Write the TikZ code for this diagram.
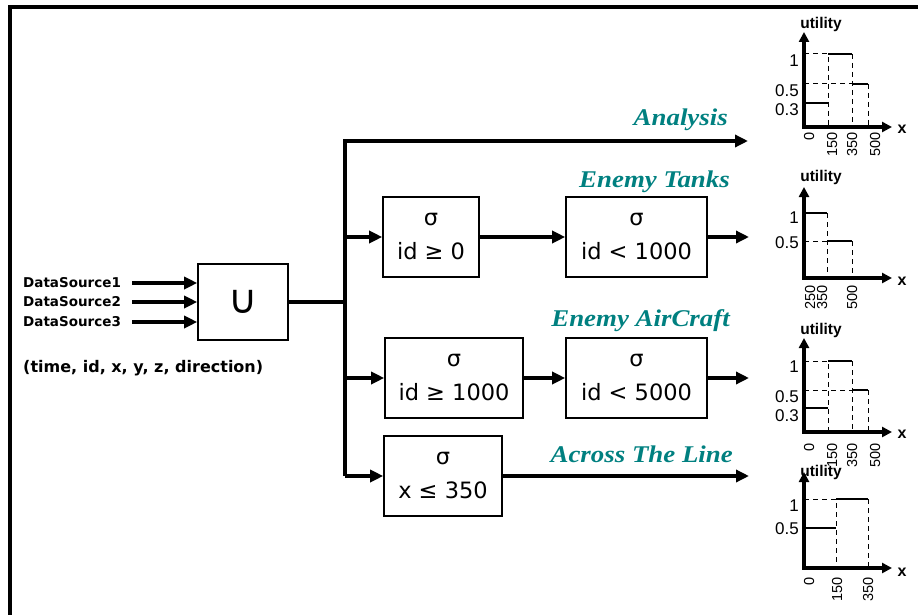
\documentclass[tikz,border=0pt]{standalone}
\usepackage{fontspec}
\setmainfont{DejaVu Sans}
\newfontfamily\labfont{Liberation Serif}
\newfontfamily\arialfont{Liberation Sans}
\usetikzlibrary{arrows.meta}
\definecolor{labteal}{RGB}{0,128,128}
\newcommand{\lbltxt}[1]{\scalebox{1.12}[1]{#1}}
\begin{document}
\begin{tikzpicture}[x=1pt,y=-1pt,
  main/.style={line width=4pt},
  arr/.style={line width=4pt,-{Triangle[length=13pt,width=12pt]}},
  box/.style={draw,line width=1.6pt,minimum height=80pt,inner sep=0pt,align=center,font=\fontsize{22.5}{34}\selectfont},
  lab/.style={text=labteal,font=\labfont\bfseries\itshape\fontsize{24}{24}\selectfont,inner sep=0pt,anchor=base east},
  src/.style={font=\bfseries\fontsize{13.5}{14}\selectfont,anchor=west,inner sep=0pt},
  axis/.style={line width=3.5pt,{Triangle[length=10pt,width=10pt]}-{Triangle[length=10pt,width=10pt]}},
  dsh/.style={dash pattern=on 5pt off 4pt,line width=1pt},
  stp/.style={line width=2pt},
  ylab/.style={font=\arialfont\fontsize{17}{17}\selectfont,anchor=east,inner sep=0pt},
  xlab/.style={font=\arialfont\fontsize{14.5}{14.5}\selectfont,rotate=90,anchor=east,inner sep=0pt},
  ut/.style={font=\arialfont\bfseries\fontsize{15.5}{15.5}\selectfont,anchor=base,inner sep=0pt},
  xb/.style={font=\arialfont\bfseries\fontsize{16}{16}\selectfont,inner sep=0pt}]
\useasboundingbox (0,0) rectangle (918,615);
% frame
\draw[line width=4pt] (10,615) -- (10,7) -- (918,7);

% sources and union
\node[box,minimum width=90pt,minimum height=76pt] (u) at (243,302) {\fontsize{40}{40}\selectfont ∪};
\node[src] (d1) at (23,283) {DataSource1};
\node[src] (d2) at (23,302) {DataSource2};
\node[src] (d3) at (23,322) {DataSource3};
\draw[arr] ([xshift=11pt]d1.east) -- (d1.east -| u.west);
\draw[arr] ([xshift=11pt]d2.east) -- (d2.east -| u.west);
\draw[arr] ([xshift=11pt]d3.east) -- (d3.east -| u.west);
\node[font=\bfseries\fontsize{16}{16}\selectfont,anchor=west,inner sep=0pt] (tp) at (23,368) {(time, id, x, y, z, direction)};

% boxes
\node[box,minimum width=96pt] (b1) at (431,237) {σ\\id ≥ 0};
\node[box,minimum width=141pt] (b2) at (636.5,237) {σ\\id < 1000};
\node[box,minimum width=138pt] (b3) at (454,378) {σ\\id ≥ 1000};
\node[box,minimum width=141pt] (b4) at (636.5,378) {σ\\id < 5000};
\node[box,minimum width=118pt] (b5) at (443,476) {σ\\x ≤ 350};

% trunk
\coordinate (ttop) at (345,141);
\coordinate (tbot) at (345,476);
\coordinate (aend) at (748,141);
\draw[main] (u.east) -- (u.east -| ttop);
\draw[arr] (tbot) -- (ttop) -- (aend);
\draw[arr] (b1.west -| ttop) -- (b1.west);
\draw[arr] (b3.west -| ttop) -- (b3.west);
\draw[arr] (b5.west -| ttop) -- (b5.west);
\draw[arr] (b1) -- (b2);
\draw[arr] (b3) -- (b4);
\coordinate (e2) at (749,237);
\coordinate (e4) at (749,378);
\coordinate (e5) at (749,476);
\draw[arr] (b2.east) -- (e2);
\draw[arr] (b4.east) -- (e4);
\draw[arr] (b5.east) -- (e5);

% labels
\node[lab] (la) at (728,125) {\lbltxt{Analysis}};
\node[lab] (lt) at (730,187) {\lbltxt{Enemy Tanks}};
\node[lab] (lc) at (730,326) {\lbltxt{Enemy AirCraft}};
\node[lab] (ll) at (733,462) {\lbltxt{Across The Line}};

% chart 1
\draw[dsh] (804,54) -- (828,54) -- (828,127);
\draw[dsh] (852,54) -- (852,127);
\draw[dsh] (804,84) -- (852,84);
\draw[dsh] (868,84) -- (868,127);
\draw[stp] (804,103) -- (828,103);
\draw[stp] (828,54) -- (852,54);
\draw[stp] (852,84) -- (868,84);
\draw[axis] (804,32) -- (804,127) -- (892,127);
\node[ut] (u1) at (821,29) {utility};
\node[xb] (x1) at (902,129) {x};
\node[ylab] (y11) at (799,61) {1};
\node[ylab] (y12) at (799,91) {0.5};
\node[ylab] (y13) at (799,110) {0.3};
\node[xlab] (t11) at (809,132) {0};
\node[xlab] (t12) at (832,132) {150};
\node[xlab] (t13) at (852,132) {350};
\node[xlab] (t14) at (875,132) {500};

% chart 2
\draw[dsh] (827,213) -- (827,278);
\draw[dsh] (804,241) -- (827,241);
\draw[dsh] (852,241) -- (852,278);
\draw[stp] (804,213) -- (827,213);
\draw[stp] (827,241) -- (852,241);
\draw[axis] (804,187) -- (804,278) -- (892,278);
\node[ut] (u2) at (821,181) {utility};
\node[xb] (x2) at (902,281) {x};
\node[ylab] (y21) at (799,218) {1};
\node[ylab] (y22) at (799,243) {0.5};
\node[xlab] (t21) at (810,285) {250};
\node[xlab] (t22) at (822,285) {350};
\node[xlab] (t23) at (852,285) {500};

% chart 3
\draw[dsh] (804,361) -- (828,361) -- (828,432);
\draw[dsh] (852,361) -- (852,432);
\draw[dsh] (804,390) -- (852,390);
\draw[dsh] (868,390) -- (868,432);
\draw[stp] (804,408) -- (828,408);
\draw[stp] (828,361) -- (852,361);
\draw[stp] (852,390) -- (868,390);
\draw[axis] (804,338) -- (804,432) -- (892,432);
\node[ut] (u3) at (821,334) {utility};
\node[xb] (x3) at (902,434) {x};
\node[ylab] (y31) at (799,367) {1};
\node[ylab] (y32) at (799,397) {0.5};
\node[ylab] (y33) at (799,416) {0.3};
\node[xlab] (t31) at (809,443) {0};
\node[xlab] (t32) at (832,443) {150};
\node[xlab] (t33) at (852,443) {350};
\node[xlab] (t34) at (875,443) {500};

% chart 4
\draw[dsh] (804,499) -- (836,499) -- (836,568);
\draw[dsh] (868,499) -- (868,568);
\draw[stp] (804,528) -- (836,528);
\draw[stp] (836,499) -- (868,499);
\draw[axis] (804,472) -- (804,568) -- (892,568);
\node[ut] (u4) at (821,476) {utility};
\node[xb] (x4) at (902,572) {x};
\node[ylab] (y41) at (799,506) {1};
\node[ylab] (y42) at (799,529) {0.5};
\node[xlab] (t41) at (809,577) {0};
\node[xlab] (t42) at (837,577) {150};
\node[xlab] (t43) at (868,577) {350};
\end{tikzpicture}
\end{document}
